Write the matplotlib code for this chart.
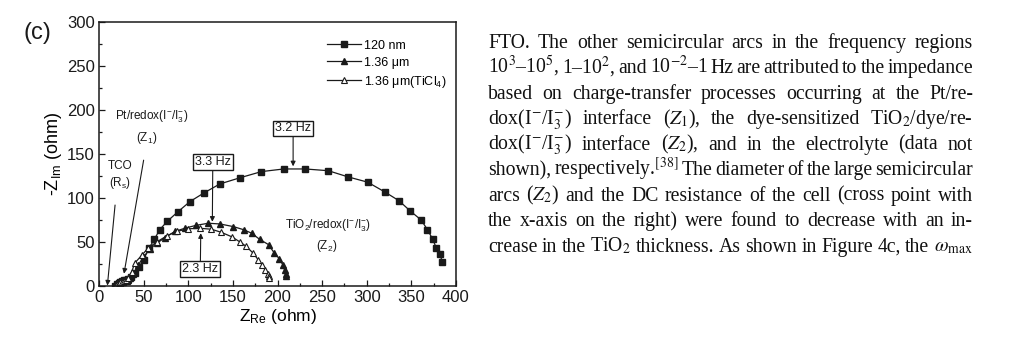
import matplotlib
matplotlib.use('Agg')
import matplotlib.pyplot as plt
from matplotlib.ticker import MultipleLocator
from matplotlib.transforms import IdentityTransform

# ---------------- data ----------------
x_120nm = [18, 20, 22, 24, 26, 28, 30, 33, 36, 40, 45, 50, 56, 62, 68, 76.6, 88, 102, 118,
           135.5, 158, 182, 207, 231, 257, 279, 301, 320, 336, 349, 361, 368, 374, 378, 382, 384.7]
y_120nm = [0.5, 2, 3.5, 5, 6, 6.5, 7, 8, 10, 15, 22, 30, 43, 53, 64, 73.6, 84, 96, 106,
           116, 123, 130, 133, 133, 131, 124, 118, 107, 97, 85, 75, 64, 53, 43, 36, 27.7]

x_136um = [19, 21, 23, 25, 27, 29, 31, 33, 35, 38.5, 44, 50, 57, 64.6, 74, 85, 96, 109, 122.5,
           135.6, 150.5, 162, 171, 180, 190, 196, 202, 206, 208, 209.5, 210]
y_136um = [0.5, 2, 3, 4, 5, 5.5, 6, 7, 9, 14, 24, 33, 42, 48.5, 55, 62, 65.6, 69, 71.3,
           70.5, 67.5, 64, 60, 53, 47, 38, 31, 24, 18, 14, 11]

x_136um_ticl4 = [18, 20, 22, 24, 26, 28, 30, 33, 36.6, 40, 48, 55, 64.6, 76, 87, 100, 113, 126,
                 137, 148.6, 158, 165, 173, 178.5, 183, 186, 189, 190.5, 191]
y_136um_ticl4 = [0.5, 2, 3, 4, 5, 6, 7, 9, 16, 26, 35, 43, 50, 57, 62, 65, 65.6, 64.5,
                 61, 56, 50, 45, 37, 29.6, 24, 18, 14, 11.5, 9]

series_labels = ["120 nm", "1.36 \u03bcm", "1.36 \u03bcm(TiCl$\\mathregular{_4}$)"]

para_lines = [
    "FTO. The other semicircular arcs in the frequency regions",
    "10$^3$\u201310$^5$, 1\u201310$^2$, and 10$^{-2}$\u20131 Hz are attributed to the impedance",
    "based on charge-transfer processes occurring at the Pt/re-",
    "dox(I$^{-}$/I$_3^{-}$) interface ($Z_1$), the dye-sensitized TiO$_2$/dye/re-",
    "dox(I$^{-}$/I$_3^{-}$) interface ($Z_2$), and in the electrolyte (data not",
    "shown), respectively.$^{[38]}$ The diameter of the large semicircular",
    "arcs ($Z_2$) and the DC resistance of the cell (cross point with",
    "the x-axis on the right) were found to decrease with an in-",
    "crease in the TiO$_2$ thickness. As shown in Figure 4c, the $\\omega_\\mathrm{max}$",
]

# ---------------- figure ----------------
W, H = 1024, 349
fig = plt.figure(figsize=(W / 100, H / 100), dpi=100)
fig.patch.set_facecolor('white')
sans = ['Liberation Sans Narrow', 'Liberation Sans', 'DejaVu Sans']

ax = fig.add_axes([99 / W, 1 - 286 / H, (456 - 99) / W, (286 - 22) / H])
col = '#1a1a1a'
ax.plot(x_120nm, y_120nm, '-s', color=col, lw=0.9, ms=4, mfc=col, mec=col, label=series_labels[0])
ax.plot(x_136um, y_136um, '-^', color=col, lw=0.9, ms=4.5, mfc=col, mec=col, label=series_labels[1])
ax.plot(x_136um_ticl4, y_136um_ticl4, '-^', color=col, lw=0.9, ms=4.5, mfc='white', mec=col,
        mew=0.8, label=series_labels[2])

ax.set_xlim(0, 400)
ax.set_ylim(0, 300)
ax.xaxis.set_major_locator(MultipleLocator(50))
ax.xaxis.set_minor_locator(MultipleLocator(25))
ax.yaxis.set_major_locator(MultipleLocator(50))
ax.yaxis.set_minor_locator(MultipleLocator(25))
ax.tick_params(which='both', direction='in', top=False, right=False, width=0.9, colors=col)
ax.tick_params(which='major', length=4, labelsize=12, pad=3)
ax.tick_params(which='minor', length=2)
for lab in ax.get_xticklabels() + ax.get_yticklabels():
    lab.set_family(sans)
for s in ax.spines.values():
    s.set_linewidth(1.1)
    s.set_color(col)

ax.set_xlabel("$\\mathregular{Z_{Re}}$ (ohm)", family=sans, fontsize=12.5, labelpad=1)
ax.set_ylabel("-$\\mathregular{Z_{Im}}$ (ohm)", family=sans, fontsize=13, labelpad=2)

leg = ax.legend(loc='upper left', bbox_to_anchor=(0.64, 0.933), frameon=False,
                prop={'family': sans, 'size': 9}, handlelength=2.7, handletextpad=0.2,
                labelspacing=0.4, borderpad=0, borderaxespad=0)

tkw = dict(family=sans, fontsize=8.5, color=col, ha='center', va='center')
akw = dict(arrowstyle='-|>', lw=0.8, color=col, mutation_scale=7, shrinkA=0, shrinkB=0)

ax.text(23.5, 136, "TCO", **tkw)
ax.text(23.5, 117, "($\\mathregular{R_s}$)", **tkw)
ax.annotate("", xy=(9.4, 0.5), xytext=(18, 92), arrowprops=akw)

ax.text(59, 192, "Pt/redox($\\mathregular{I^{-}/I_3^{-}}$)", **tkw)
ax.text(53.5, 168, "($\\mathregular{Z_1}$)", **tkw)
ax.annotate("", xy=(28, 14), xytext=(50, 143), arrowprops=akw)

ax.text(257, 68, "TiO$\\mathregular{_2}$/redox($\\mathregular{I^{-}/I_3^{-}}$)", **tkw)
ax.text(255, 45, "($\\mathregular{Z_2}$)", **tkw)

box = dict(boxstyle='square,pad=0.15', fc='white', ec=col, lw=1.0)
hz = dict(tkw)
hz['fontsize'] = 9
ax.annotate("3.2 Hz", xy=(217.5, 136), xytext=(217.5, 179), bbox=box, arrowprops=akw, **hz)
ax.annotate("3.3 Hz", xy=(127, 73), xytext=(127.5, 141), bbox=box, arrowprops=akw, **hz)
ax.annotate("2.3 Hz", xy=(114, 60), xytext=(113.5, 19), bbox=box, arrowprops=akw, **hz)

fig.text(37 / W, 1 - 33 / H, "(c)", family=['Liberation Sans', 'DejaVu Sans'], fontsize=17,
         ha='center', va='center', color=col)

# ---------------- justified paragraph ----------------
renderer = fig.canvas.get_renderer()
x0, x1 = 488, 973
fs = 14.2
for i, line in enumerate(para_lines):
    words = line.split(' ')
    ybase = H - (47.7 + 25.5 * i)
    objs = []
    widths = []
    for w in words:
        t = fig.text(0, ybase, w, transform=IdentityTransform(), fontsize=fs,
                     family=['Liberation Serif', 'DejaVu Serif'], math_fontfamily='stix',
                     va='baseline', ha='left', color='#111111')
        objs.append(t)
        widths.append(t.get_window_extent(renderer).width)
    gap = (x1 - x0 - sum(widths)) / max(len(words) - 1, 1)
    x = x0
    for t, wd in zip(objs, widths):
        t.set_position((x, ybase))
        x += wd + gap

fig.savefig('out.png', dpi=100, facecolor='white')
